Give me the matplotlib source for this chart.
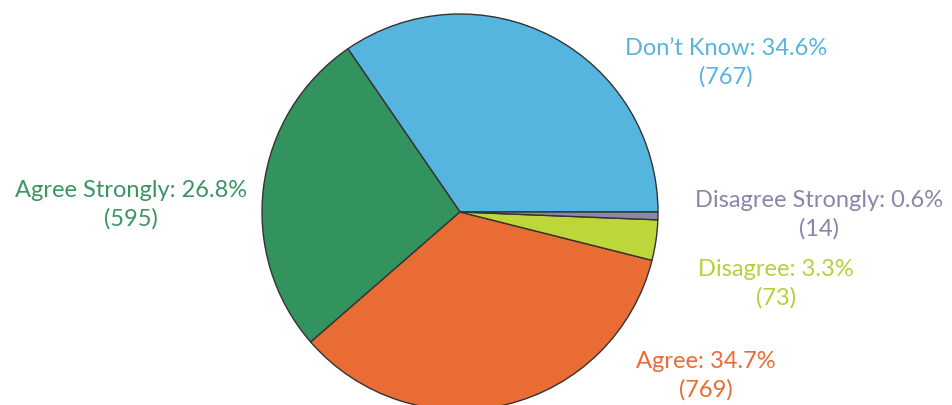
import matplotlib
matplotlib.use("Agg")
import matplotlib.pyplot as plt

categories = ["Don\u2019t Know", "Agree Strongly", "Agree", "Disagree", "Disagree Strongly"]
counts = [767, 595, 769, 73, 14]
percents = [34.6, 26.8, 34.7, 3.3, 0.6]
colors = ["#55b5df", "#33935e", "#e86c33", "#bdd73a", "#8b87aa"]
text_colors = ["#55b5df", "#3a9563", "#e86c33", "#b5d03a", "#8a85a8"]

W, H = 952, 406
fig = plt.figure(figsize=(W / 100, H / 100), dpi=100)
ax = fig.add_axes([0, 0, 1, 1])

cx, cy, r = 460, H - 213, 198
ax.pie(counts, colors=colors, startangle=0, counterclock=True,
       center=(cx, cy), radius=r, frame=True,
       wedgeprops=dict(edgecolor="#333333", linewidth=1.0))
ax.set_xlim(0, W)
ax.set_ylim(0, H)
ax.set_aspect("equal")
ax.axis("off")

label_pos = [(726, 63), (131, 205), (706, 376), (776, 284), (819, 215)]
for cat, n, p, c, (x, y) in zip(categories, counts, percents, text_colors, label_pos):
    ax.text(x, H - y, f"{cat}: {p}%\n({n})", color=c, ha="center", va="center",
            fontsize=17, family="Lato", linespacing=1.42)

fig.savefig("out.png", dpi=100)
